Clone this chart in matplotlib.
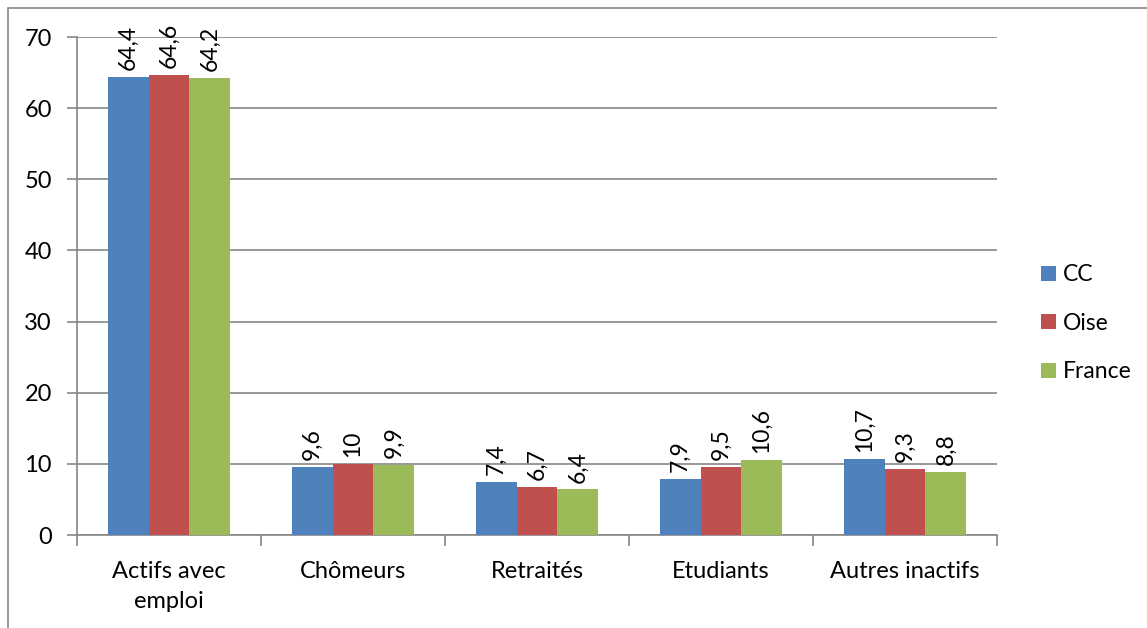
import matplotlib.pyplot as plt
import numpy as np
from matplotlib.patches import Rectangle

plt.rcParams["font.family"] = ["Lato", "DejaVu Sans"]

categories = ["Actifs avec\nemploi", "Chômeurs", "Retraités", "Etudiants", "Autres inactifs"]
series = ["CC", "Oise", "France"]
cc = [64.4, 9.6, 7.4, 7.9, 10.7]
oise = [64.6, 10, 6.7, 9.5, 9.3]
france = [64.2, 9.9, 6.4, 10.6, 8.8]
colors = ["#4F81BD", "#C0504D", "#9BBB59"]

fig = plt.figure(figsize=(11.47, 6.28), dpi=100)
ax = fig.add_axes([77 / 1147, 1 - 535 / 628, 920 / 1147, 498 / 628])

# cadre du graphique
fig.patches.append(Rectangle((8 / 1147, -0.1), 1.2, 0.1 + 1 - 8 / 628, transform=fig.transFigure,
                             fill=False, edgecolor="#888888", linewidth=1.2))

x = np.arange(len(categories))
w = 1 / 4.5
for i, (vals, name) in enumerate(zip([cc, oise, france], series)):
    pos = x + (i - 1) * w
    ax.bar(pos, vals, width=w, color=colors[i], label=name, zorder=3)
    for p, v in zip(pos, vals):
        txt = ("%g" % v).replace(".", ",")
        ax.annotate(txt, (p, v), xytext=(0, 5), textcoords="offset points",
                    rotation=90, ha="center", va="bottom", fontsize=16.5)

ax.set_xlim(-0.5, len(categories) - 0.5)
ax.set_ylim(0, 70)
ax.set_yticks(range(0, 71, 10))
ax.yaxis.grid(True, color="#868686", linewidth=1.2, zorder=0)
ax.set_xticks(np.arange(len(categories) + 1) - 0.5)
ax.set_xticklabels([])
ax.set_xticks(x, minor=True)
ax.set_xticklabels(categories, minor=True, fontsize=17, linespacing=1.5)
ax.tick_params(axis="x", which="minor", length=0, pad=19)
ax.tick_params(axis="x", which="major", length=8, color="#868686", width=1.2)
ax.tick_params(axis="y", length=7, color="#868686", width=1.2, labelsize=17, pad=11)
for s in ["top", "right"]:
    ax.spines[s].set_visible(False)
for s in ["left", "bottom"]:
    ax.spines[s].set_color("#868686")
    ax.spines[s].set_linewidth(1.2)

ax.legend(loc="center left", bbox_to_anchor=(1.025, 0.425), frameon=False, fontsize=16.5,
          handlelength=0.65, handleheight=0.65, handletextpad=0.3, labelspacing=1.2)

fig.savefig("out.png", dpi=100)
